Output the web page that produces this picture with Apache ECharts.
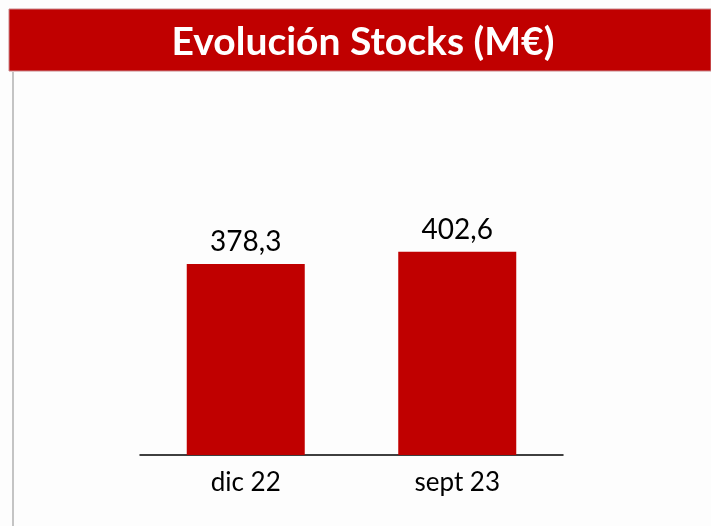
<!DOCTYPE html>
<html><head><meta charset="utf-8">
<script src="https://cdn.jsdelivr.net/npm/echarts@6/dist/echarts.min.js"></script>
<style>html,body{margin:0;padding:0;background:#fdfdfd;}#c{width:711px;height:526px;}</style>
</head><body><div id="c"></div>
<script>
var title = 'Evolución Stocks (M€)';
var categories = ['dic 22', 'sept 23'];
var values = [378.3, 402.6];

var chart = echarts.init(document.getElementById('c'), null, {renderer: 'canvas'});
chart.setOption({
  backgroundColor: '#fdfdfd',
  animation: false,
  graphic: [
    {type: 'rect', shape: {x: 9, y: 9, width: 702, height: 62}, style: {fill: '#c00000', stroke: '#c8868a', lineWidth: 1}, z: 10},
    {type: 'line', shape: {x1: 13, y1: 72, x2: 13, y2: 526}, style: {stroke: '#b0b0b0', lineWidth: 1.5}},
    {type: 'text', x: 363, y: 42, style: {text: title, fill: '#ffffff', font: 'bold 39px Lato', textAlign: 'center', textVerticalAlign: 'middle'}, z: 11}
  ],
  grid: {left: 140, right: 148, top: 152, bottom: 71},
  xAxis: {
    type: 'category', data: categories,
    axisLine: {lineStyle: {color: '#000', width: 1.5}},
    axisTick: {show: false},
    axisLabel: {color: '#000', fontSize: 26, fontFamily: 'Lato', margin: 15}
  },
  yAxis: {
    type: 'value', min: 0, max: 600, show: false, splitLine: {show: false}
  },
  series: [{
    type: 'bar', data: values, barWidth: 118,
    itemStyle: {color: '#c00000'},
    label: {show: true, position: 'top', distance: 8, color: '#000', fontSize: 28, fontFamily: 'Lato',
      formatter: function(p){ return p.value.toFixed(1).replace('.', ','); }}
  }]
});
</script></body></html>
